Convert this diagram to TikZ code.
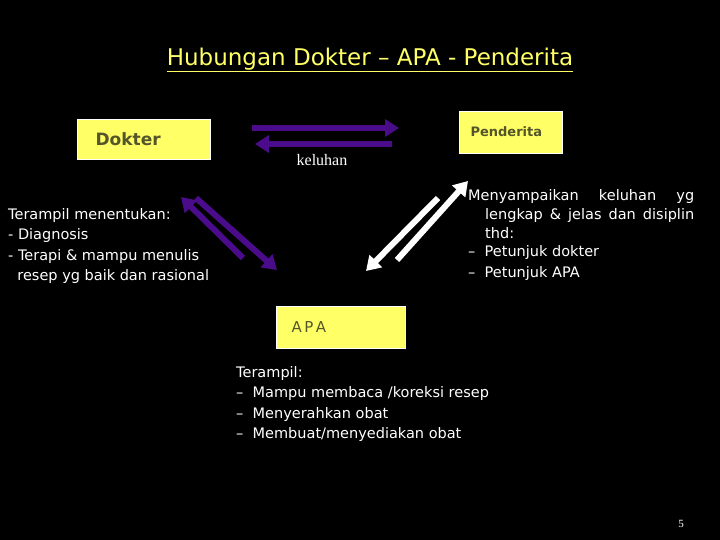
\documentclass[tikz,border=0pt]{standalone}
\usepackage{fontspec}
\setmainfont{Liberation Serif}
\newfontfamily\sansf{DejaVu Sans}
\usetikzlibrary{arrows.meta}
\definecolor{boxy}{HTML}{FFFF66}
\definecolor{purp}{HTML}{4B0C8C}
\definecolor{olive}{HTML}{55552A}
\begin{document}
\begin{tikzpicture}[x=1pt,y=-1pt,
  ybox/.style={fill=boxy,draw=white,line width=0.6pt,anchor=north west,inner sep=0pt},
  parr/.style={draw=purp,line width=6pt,-{Triangle[length=14pt,width=17pt]}},
  warr/.style={draw=white,line width=6pt,-{Triangle[length=14pt,width=17pt]}},
  txt/.style={text=white,font=\sansf\fontsize{14.5}{20.5}\selectfont,align=left,inner sep=0pt}]
\fill[black] (0,0) rectangle (720,540);
\useasboundingbox (0,0) rectangle (720,540);
\node[text=boxy,font=\sansf\fontsize{23}{26}\selectfont] (title) at (370,60) {\underline{Hubungan Dokter – APA - Penderita}};
\node[ybox,minimum width=133pt,minimum height=40pt] (dok) at (77,119) {};
\node[text=olive,font=\sansf\bfseries\fontsize{17}{20}\selectfont,anchor=west] (dokt) at (92,139) {Dokter};
\node[ybox,minimum width=103pt,minimum height=42pt] (pen) at (459,111) {};
\node[text=olive,font=\sansf\bfseries\fontsize{13}{15}\selectfont,anchor=west] (pent) at (467,132) {Penderita};
\node[ybox,minimum width=129pt,minimum height=42pt] (apa) at (276,306) {};
\node[text=olive,font=\sansf\fontsize{15}{18}\selectfont,anchor=west] (apat) at (288,327) {A\,P\,A};
\coordinate (a1) at (252,128); \coordinate (a2) at (399,128);
\coordinate (b1) at (392,144); \coordinate (b2) at (255,144);
\draw[parr] (a1) -- (a2);
\draw[parr] (b1) -- (b2);
\node[text=white,font=\fontsize{16}{18}\selectfont] (kel) at (322,160) {keluhan};
\coordinate (c1) at (243,258); \coordinate (c2) at (181,197);
\coordinate (d1) at (196,198); \coordinate (d2) at (277,270);
\draw[parr] (c1) -- (c2);
\draw[parr] (d1) -- (d2);
\coordinate (e1) at (438,198); \coordinate (e2) at (366,271);
\coordinate (f1) at (397,260); \coordinate (f2) at (468,181);
\draw[warr] (e1) -- (e2);
\draw[warr] (f1) -- (f2);
\node[txt,anchor=west] (lt) at (8,246) {Terampil menentukan:\\- Diagnosis\\- Terapi \& mampu menulis\\\ \ resep yg baik dan rasional};
\node[txt,anchor=west] (rt1) at (468,197) {\makebox[226pt][s]{Menyampaikan\hfill keluhan\hfill yg}};
\node[txt,anchor=west] (rt2) at (485,215) {\makebox[209pt][s]{lengkap\hfill \&\hfill jelas\hfill dan\hfill disiplin}};
\node[txt,anchor=west] (rt3) at (485,233) {thd:};
\node[txt,anchor=west] (rt4) at (468,263) {–\ \ Petunjuk dokter\\–\ \ Petunjuk APA};
\node[txt,anchor=west] (bt) at (236,404) {Terampil:\\–\ \ Mampu membaca /koreksi resep\\–\ \ Menyerahkan obat\\–\ \ Membuat/menyediakan obat};
\node[text=white,font=\fontsize{11}{12}\selectfont] (pg) at (681,524) {5};
\end{tikzpicture}
\end{document}
